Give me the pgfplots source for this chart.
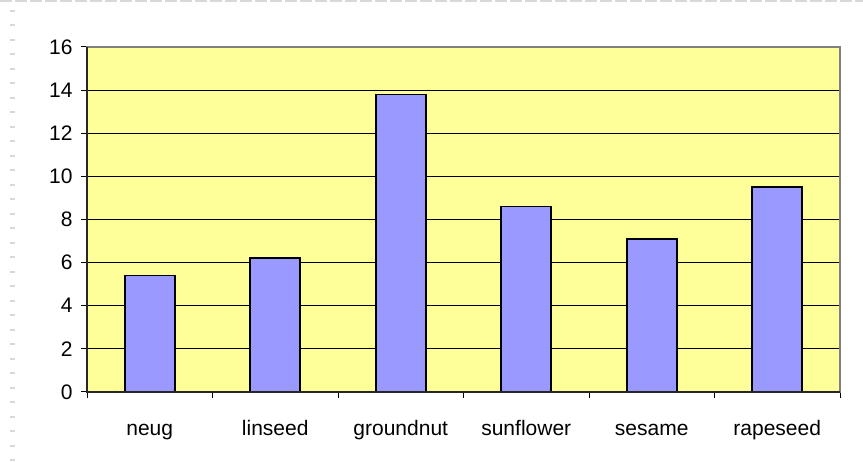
\documentclass[border=0pt]{standalone}
\usepackage{pgfplots}
\pgfplotsset{compat=1.18}
\usepackage{fontspec}
\setmainfont{Liberation Sans}

\definecolor{plotbg}{HTML}{FFFF99}
\definecolor{barfill}{HTML}{9999FF}
\definecolor{dashgray}{HTML}{D8D8D8}

\begin{document}
\begin{tikzpicture}[x=1pt,y=1pt]
\useasboundingbox (0,0) rectangle (863,462);
% faint dashed frame of the chart area
\draw[dashgray, line width=2pt, dash pattern=on 12pt off 3pt] (0,461) -- (863,461);
\draw[dashgray, line width=5pt, dash pattern=on 2pt off 12.5pt] (12.5,452) -- (12.5,0);

\begin{axis}[
    at={(87pt,70pt)}, anchor=south west,
    scale only axis,
    width=753pt, height=345pt,
    xmin=0.5, xmax=6.5,
    ymin=0, ymax=16,
    ytick={0,2,...,16},
    xtick={1,...,6},
    xticklabels={neug,linseed,groundnut,sunflower,sesame,rapeseed},
    minor xtick={0.5,1.5,...,6.5},
    tick align=outside,
    major x tick style={draw=none},
    minor tick length=6pt,
    major tick length=6pt,
    x tick style={black, line width=1pt},
    y tick style={black, line width=1pt},
    xtick pos=bottom, ytick pos=left,
    ymajorgrids,
    grid style={black, line width=1pt},
    axis background/.style={fill=plotbg},
    axis line style={draw=gray, line width=1.8pt},
    ticklabel style={font=\fontsize{21}{24}\selectfont, text=black},
    xticklabel style={anchor=base, yshift=-38pt},
    yticklabel style={xshift=-5pt},
    /pgf/number format/assume math mode=true,
    ybar, bar width=0.4,
    axis on top=false,
    clip=false,
]
\addplot[fill=barfill, draw=black, line width=1.8pt] coordinates {
    (1, 5.4)
    (2, 6.2)
    (3, 13.8)
    (4, 8.6)
    (5, 7.1)
    (6, 9.5)
};
\draw[black!85, line width=1.5pt] (rel axis cs:0,1) -- (rel axis cs:0,0) -- (rel axis cs:1,0);
\end{axis}
\end{tikzpicture}
\end{document}
